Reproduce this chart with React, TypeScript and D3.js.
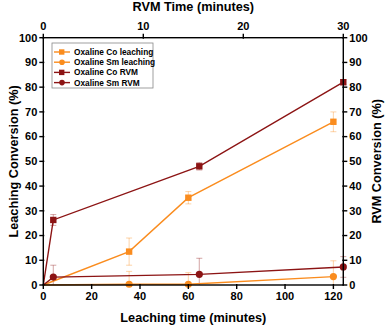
import React from "react";
import * as d3 from "d3";

const leachTimes = [0, 35.5, 60, 120];
const coLeach = [0, 13.5, 35.3, 66];
const coLeachErr = [0, 5.5, 2.5, 4];
const smLeach = [0, 0.3, 0.3, 3.4];
const smLeachErr = [0, 5.2, 4.7, 6.4];

const rvmTimes = [0, 1, 15.6, 30];
const coRvm = [0, 26.3, 48, 82];
const coRvmErr = [0, 2.2, 1.5, 1];
const smRvm = [0, 3.2, 4.3, 7.3];
const smRvmErr = [0, 4.8, 6.5, 4.2];

const bottomTicks = [0, 20, 40, 60, 80, 100, 120];
const topTicks = [0, 10, 20, 30];
const yTicks = [0, 10, 20, 30, 40, 50, 60, 70, 80, 90, 100];

const ORANGE = "#FA8C1E";
const DARK = "#8C1414";
const FONT = "'Liberation Sans', Arial, sans-serif";

export default function App() {
  const W = 387, H = 327;
  const L = 43.3, R = 343.3, T = 37.7, B = 285;
  const xB = d3.scaleLinear().domain([0, 124.1]).range([L, R]);
  const xT = d3.scaleLinear().domain([0, 30]).range([L, R]);
  const y = d3.scaleLinear().domain([0, 100]).range([B, T]);

  const series = [
    { name: "Oxaline Co leaching", xs: leachTimes, ys: coLeach, err: coLeachErr, sx: xB, color: ORANGE, shape: "square" },
    { name: "Oxaline Sm leaching", xs: leachTimes, ys: smLeach, err: smLeachErr, sx: xB, color: ORANGE, shape: "circle" },
    { name: "Oxaline Co RVM", xs: rvmTimes, ys: coRvm, err: coRvmErr, sx: xT, color: DARK, shape: "square" },
    { name: "Oxaline Sm RVM", xs: rvmTimes, ys: smRvm, err: smRvmErr, sx: xT, color: DARK, shape: "circle" },
  ];

  const line = (s: any) =>
    d3.line<number>().x((_, i) => s.sx(s.xs[i])).y((v) => y(v))(s.ys) || "";

  const marker = (shape: string, cx: number, cy: number, color: string, k: string) =>
    shape === "square" ? (
      <rect key={k} x={cx - 3.2} y={cy - 3.2} width={6.4} height={6.4} fill={color} />
    ) : (
      <circle key={k} cx={cx} cy={cy} r={3.6} fill={color} />
    );

  const tickFont = { fontFamily: FONT, fontWeight: 700, fontSize: 11 } as any;
  const titleFont = { fontFamily: FONT, fontWeight: 700, fontSize: 12.7 } as any;

  return (
    <svg width={W} height={H} style={{ position: "absolute", left: 0, top: 0, background: "#fff" }}>
      {/* error bars */}
      {series.map((s, si) =>
        s.xs.map((xv, i) => {
          if (!s.err[i]) return null;
          const cx = s.sx(xv);
          const y1 = y(s.ys[i] - s.err[i]);
          const y2 = y(s.ys[i] + s.err[i]);
          return (
            <g key={`e${si}-${i}`} stroke={s.color} strokeOpacity={0.35} strokeWidth={1.1}>
              <line x1={cx} x2={cx} y1={Math.min(y1, B)} y2={y2} />
              <line x1={cx - 3} x2={cx + 3} y1={y2} y2={y2} />
              {y1 <= B && <line x1={cx - 3} x2={cx + 3} y1={y1} y2={y1} />}
            </g>
          );
        })
      )}
      {/* lines */}
      {series.map((s, si) => (
        <path key={`l${si}`} d={line(s)} fill="none" stroke={s.color} strokeWidth={1.4} />
      ))}
      {/* markers */}
      {series.map((s, si) =>
        s.xs.map((xv, i) => (i === 0 ? null : marker(s.shape, s.sx(xv), y(s.ys[i]), s.color, `m${si}-${i}`)))
      )}

      {/* frame */}
      <rect x={L} y={T} width={R - L} height={B - T} fill="none" stroke="#000" strokeWidth={1.4} />

      {/* left / right axes */}
      {yTicks.map((t) => (
        <g key={`y${t}`}>
          <line x1={L - 4} x2={L + 1} y1={y(t)} y2={y(t)} stroke="#000" strokeWidth={1.4} />
          <text x={L - 6} y={y(t)} dy="0.35em" textAnchor="end" style={tickFont}>{t}</text>
          <line x1={R - 1} x2={R + 4} y1={y(t)} y2={y(t)} stroke="#000" strokeWidth={1.4} />
          <text x={R + 6} y={y(t)} dy="0.35em" textAnchor="start" style={tickFont}>{t}</text>
        </g>
      ))}
      {/* bottom axis */}
      {bottomTicks.map((t) => (
        <g key={`b${t}`}>
          <line x1={xB(t)} x2={xB(t)} y1={B - 1} y2={B + 4} stroke="#000" strokeWidth={1.4} />
          <text x={xB(t)} y={B + 15} textAnchor="middle" style={tickFont}>{t}</text>
        </g>
      ))}
      {/* top axis */}
      {topTicks.map((t) => (
        <g key={`t${t}`}>
          <line x1={xT(t)} x2={xT(t)} y1={T - 4} y2={T + 1} stroke="#000" strokeWidth={1.4} />
          <text x={xT(t)} y={T - 8} textAnchor="middle" style={tickFont}>{t}</text>
        </g>
      ))}

      {/* titles */}
      <text x={(L + R) / 2} y={11} textAnchor="middle" style={titleFont}>RVM Time (minutes)</text>
      <text x={(L + R) / 2} y={322} textAnchor="middle" style={titleFont}>Leaching time (minutes)</text>
      <text transform={`translate(14,${(T + B) / 2}) rotate(-90)`} textAnchor="middle" dy="0.35em" style={titleFont}>
        Leaching Conversion (%)
      </text>
      <text transform={`translate(377,${(T + B) / 2}) rotate(-90)`} textAnchor="middle" dy="0.35em" style={titleFont}>
        RVM Conversion (%)
      </text>

      {/* legend */}
      <rect x={52} y={43} width={101} height={45} fill="#fff" stroke="#888" strokeWidth={0.8} />
      {series.map((s, i) => {
        const ly = 52 + i * 10.2;
        return (
          <g key={`lg${i}`}>
            <line x1={54} x2={70} y1={ly} y2={ly} stroke={s.color} strokeWidth={1.4} />
            {s.shape === "square" ? (
              <rect x={59} y={ly - 2.7} width={5.4} height={5.4} fill={s.color} />
            ) : (
              <circle cx={62} cy={ly} r={2.8} fill={s.color} />
            )}
            <text x={74} y={ly} dy="0.35em" style={{ fontFamily: FONT, fontWeight: 700, fontSize: 8.3 }}>
              {s.name}
            </text>
          </g>
        );
      })}
    </svg>
  );
}
